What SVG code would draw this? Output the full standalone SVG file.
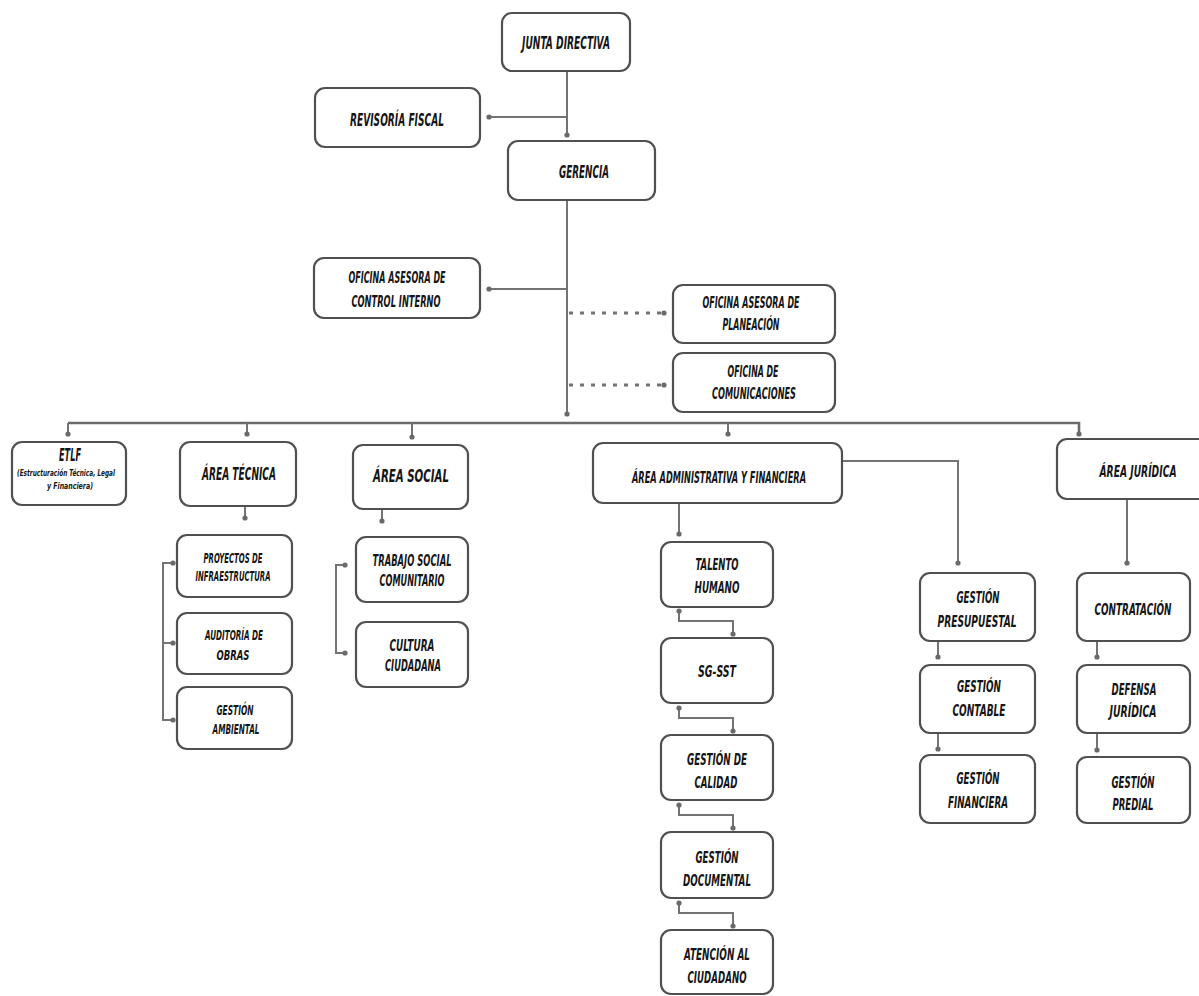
<svg xmlns="http://www.w3.org/2000/svg" width="1199" height="996" viewBox="0 0 1199 996">
<defs>
<marker id="dot" viewBox="0 0 6 6" refX="3" refY="3" markerWidth="6" markerHeight="6" markerUnits="userSpaceOnUse">
<circle cx="3" cy="3" r="2.6" fill="#6a6a6a"/>
</marker>
<style>
.box{fill:#fff;stroke:#505050;stroke-width:2.2}
.ln{fill:none;stroke:#737373;stroke-width:2;marker-end:url(#dot)}
.ln2{fill:none;stroke:#737373;stroke-width:2;marker-start:url(#dot);marker-end:url(#dot)}
.bus{fill:none;stroke:#6a6a6a;stroke-width:2.6}
.dash{fill:none;stroke:#737373;stroke-width:3;stroke-dasharray:4 7;marker-end:url(#dot)}
text{font-family:'Liberation Sans Narrow','DejaVu Sans Condensed','Liberation Sans',sans-serif;font-weight:bold;font-style:italic;fill:#151515;text-anchor:middle}
.t16{font-size:17.5px}
.t14{font-size:15px}
.t13{font-size:13.5px}
.t9{font-size:9px}
.tj{font-size:16px}
</style>
</defs>
<rect width="1199" height="996" fill="#fff"/>

<g id="connectors">
<path class="ln" d="M567,71 V135"/>
<path class="ln" d="M567,117 H489"/>
<path class="ln" d="M567,200 V414"/>
<path class="ln" d="M567,289 H489"/>
<path class="dash" d="M569,313 H664"/>
<path class="dash" d="M569,385 H664"/>
<path class="bus" d="M68,423 H1079 V434"/>
<circle cx="1079" cy="434" r="2.6" fill="#6a6a6a"/>
<path class="ln" d="M68,423 V434"/>
<path class="ln" d="M247,423 V434"/>
<path class="ln" d="M412,423 V437"/>
<path class="ln" d="M728,423 V434"/>
<path class="ln" d="M245,506 V518"/>
<path class="ln2" d="M173,563 H163 V720 H173"/>
<path class="ln" d="M163,643 H173"/>
<path class="ln" d="M382,509 V521"/>
<path class="ln2" d="M345,565 H336 V653 H345"/>
<path class="ln" d="M679,503 V534"/>
<path class="ln2" d="M679,611 V621 H733 V634"/>
<path class="ln2" d="M679,708 V718 H733 V731"/>
<path class="ln2" d="M679,805 V815 H733 V828"/>
<path class="ln2" d="M679,903 V913 H733 V926"/>
<path class="ln" d="M842,461 H958 V563"/>
<path class="ln" d="M938,641 V657"/>
<path class="ln" d="M938,733 V749"/>
<path class="ln" d="M1127,499 V563"/>
<path class="ln" d="M1097,641 V657"/>
<path class="ln" d="M1097,733 V750"/>
</g>

<g id="junta"><rect class="box" x="502" y="13" width="128" height="58" rx="10"/><text class="t16" x="566" y="49" textLength="88" lengthAdjust="spacingAndGlyphs">JUNTA DIRECTIVA</text></g>
<g id="revisoria"><rect class="box" x="315" y="88" width="165" height="59" rx="10"/><text class="t16" x="397" y="126" textLength="94" lengthAdjust="spacingAndGlyphs">REVISORÍA FISCAL</text></g>
<g id="gerencia"><rect class="box" x="508" y="141" width="147" height="59" rx="10"/><text class="t16" x="584" y="178" textLength="50" lengthAdjust="spacingAndGlyphs">GERENCIA</text></g>
<g id="control"><rect class="box" x="314" y="258" width="166" height="60" rx="10"/><text class="t14" x="397" y="283" textLength="97" lengthAdjust="spacingAndGlyphs">OFICINA ASESORA DE</text><text class="t14" x="396" y="307" textLength="89" lengthAdjust="spacingAndGlyphs">CONTROL INTERNO</text></g>
<g id="planeacion"><rect class="box" x="673" y="285" width="162" height="58" rx="10"/><text class="t14" x="751" y="308" textLength="97" lengthAdjust="spacingAndGlyphs">OFICINA ASESORA DE</text><text class="t14" x="751" y="330" textLength="57" lengthAdjust="spacingAndGlyphs">PLANEACIÓN</text></g>
<g id="comunicaciones"><rect class="box" x="673" y="353" width="162" height="59" rx="10"/><text class="t14" x="753" y="377" textLength="51" lengthAdjust="spacingAndGlyphs">OFICINA DE</text><text class="t14" x="754" y="399" textLength="84" lengthAdjust="spacingAndGlyphs">COMUNICACIONES</text></g>

<g id="etlf"><rect class="box" x="12" y="442" width="114" height="63" rx="10"/><text class="t16" x="70" y="461" textLength="22" lengthAdjust="spacingAndGlyphs">ETLF</text><text class="t9" x="66" y="476" textLength="98" lengthAdjust="spacingAndGlyphs">(Estructuración Técnica, Legal</text><text class="t9" x="70" y="489" textLength="46" lengthAdjust="spacingAndGlyphs">y Financiera)</text></g>
<g id="tecnica"><rect class="box" x="180" y="442" width="116" height="64" rx="10"/><text class="t16" x="239" y="480" textLength="74" lengthAdjust="spacingAndGlyphs">ÁREA TÉCNICA</text></g>
<g id="social"><rect class="box" x="353" y="445" width="115" height="64" rx="10"/><text class="t16" x="411" y="482" textLength="76" lengthAdjust="spacingAndGlyphs">ÁREA SOCIAL</text></g>
<g id="admin"><rect class="box" x="593" y="443" width="249" height="60" rx="10"/><text class="t14" x="719" y="483" textLength="174" lengthAdjust="spacingAndGlyphs">ÁREA ADMINISTRATIVA Y FINANCIERA</text></g>
<g id="juridica"><rect class="box" x="1057" y="439" width="160" height="60" rx="10"/><text class="tj" x="1138" y="477" textLength="77" lengthAdjust="spacingAndGlyphs">ÁREA JURÍDICA</text></g>

<g id="proyectos"><rect class="box" x="177" y="535" width="115" height="62" rx="10"/><text class="t13" x="233" y="563" textLength="59" lengthAdjust="spacingAndGlyphs">PROYECTOS DE</text><text class="t13" x="233" y="581" textLength="75" lengthAdjust="spacingAndGlyphs">INFRAESTRUCTURA</text></g>
<g id="auditoria"><rect class="box" x="177" y="613" width="115" height="61" rx="10"/><text class="t13" x="234" y="640" textLength="58" lengthAdjust="spacingAndGlyphs">AUDITORÍA DE</text><text class="t13" x="233" y="660" textLength="33" lengthAdjust="spacingAndGlyphs">OBRAS</text></g>
<g id="ambiental"><rect class="box" x="177" y="687" width="115" height="62" rx="10"/><text class="t13" x="235" y="715" textLength="37" lengthAdjust="spacingAndGlyphs">GESTIÓN</text><text class="t13" x="236" y="734" textLength="47" lengthAdjust="spacingAndGlyphs">AMBIENTAL</text></g>
<g id="trabajo"><rect class="box" x="356" y="537" width="112" height="65" rx="10"/><text class="t14" x="412" y="566" textLength="79" lengthAdjust="spacingAndGlyphs">TRABAJO SOCIAL</text><text class="t14" x="412" y="586" textLength="65" lengthAdjust="spacingAndGlyphs">COMUNITARIO</text></g>
<g id="cultura"><rect class="box" x="356" y="622" width="112" height="65" rx="10"/><text class="t14" x="412" y="651" textLength="45" lengthAdjust="spacingAndGlyphs">CULTURA</text><text class="t14" x="413" y="671" textLength="56" lengthAdjust="spacingAndGlyphs">CIUDADANA</text></g>

<g id="talento"><rect class="box" x="661" y="542" width="112" height="65" rx="10"/><text class="t14" x="717" y="570" textLength="43" lengthAdjust="spacingAndGlyphs">TALENTO</text><text class="t14" x="717" y="593" textLength="45" lengthAdjust="spacingAndGlyphs">HUMANO</text></g>
<g id="sgsst"><rect class="box" x="661" y="638" width="112" height="65" rx="10"/><text class="t14" x="717" y="677" textLength="38" lengthAdjust="spacingAndGlyphs">SG-SST</text></g>
<g id="calidad"><rect class="box" x="661" y="735" width="112" height="65" rx="10"/><text class="t14" x="717" y="765" textLength="60" lengthAdjust="spacingAndGlyphs">GESTIÓN DE</text><text class="t14" x="716" y="788" textLength="43" lengthAdjust="spacingAndGlyphs">CALIDAD</text></g>
<g id="documental"><rect class="box" x="661" y="832" width="112" height="66" rx="10"/><text class="t14" x="717" y="863" textLength="43" lengthAdjust="spacingAndGlyphs">GESTIÓN</text><text class="t14" x="717" y="886" textLength="68" lengthAdjust="spacingAndGlyphs">DOCUMENTAL</text></g>
<g id="atencion"><rect class="box" x="661" y="930" width="112" height="64" rx="10"/><text class="t14" x="717" y="960" textLength="66" lengthAdjust="spacingAndGlyphs">ATENCIÓN AL</text><text class="t14" x="717" y="983" textLength="59" lengthAdjust="spacingAndGlyphs">CIUDADANO</text></g>

<g id="presupuestal"><rect class="box" x="920" y="573" width="115" height="68" rx="10"/><text class="t14" x="978" y="603" textLength="43" lengthAdjust="spacingAndGlyphs">GESTIÓN</text><text class="t14" x="977" y="627" textLength="79" lengthAdjust="spacingAndGlyphs">PRESUPUESTAL</text></g>
<g id="contable"><rect class="box" x="920" y="665" width="115" height="68" rx="10"/><text class="t14" x="979" y="692" textLength="44" lengthAdjust="spacingAndGlyphs">GESTIÓN</text><text class="t14" x="979" y="716" textLength="53" lengthAdjust="spacingAndGlyphs">CONTABLE</text></g>
<g id="financiera"><rect class="box" x="920" y="755" width="115" height="68" rx="10"/><text class="t14" x="978" y="784" textLength="43" lengthAdjust="spacingAndGlyphs">GESTIÓN</text><text class="t14" x="978" y="808" textLength="60" lengthAdjust="spacingAndGlyphs">FINANCIERA</text></g>
<g id="contratacion"><rect class="box" x="1077" y="573" width="113" height="68" rx="10"/><text class="t14" x="1133" y="615" textLength="77" lengthAdjust="spacingAndGlyphs">CONTRATACIÓN</text></g>
<g id="defensa"><rect class="box" x="1077" y="665" width="113" height="68" rx="10"/><text class="t14" x="1134" y="695" textLength="45" lengthAdjust="spacingAndGlyphs">DEFENSA</text><text class="t14" x="1133" y="717" textLength="47" lengthAdjust="spacingAndGlyphs">JURÍDICA</text></g>
<g id="predial"><rect class="box" x="1077" y="757" width="113" height="66" rx="10"/><text class="t14" x="1133" y="788" textLength="43" lengthAdjust="spacingAndGlyphs">GESTIÓN</text><text class="t14" x="1133" y="810" textLength="41" lengthAdjust="spacingAndGlyphs">PREDIAL</text></g>
</svg>
